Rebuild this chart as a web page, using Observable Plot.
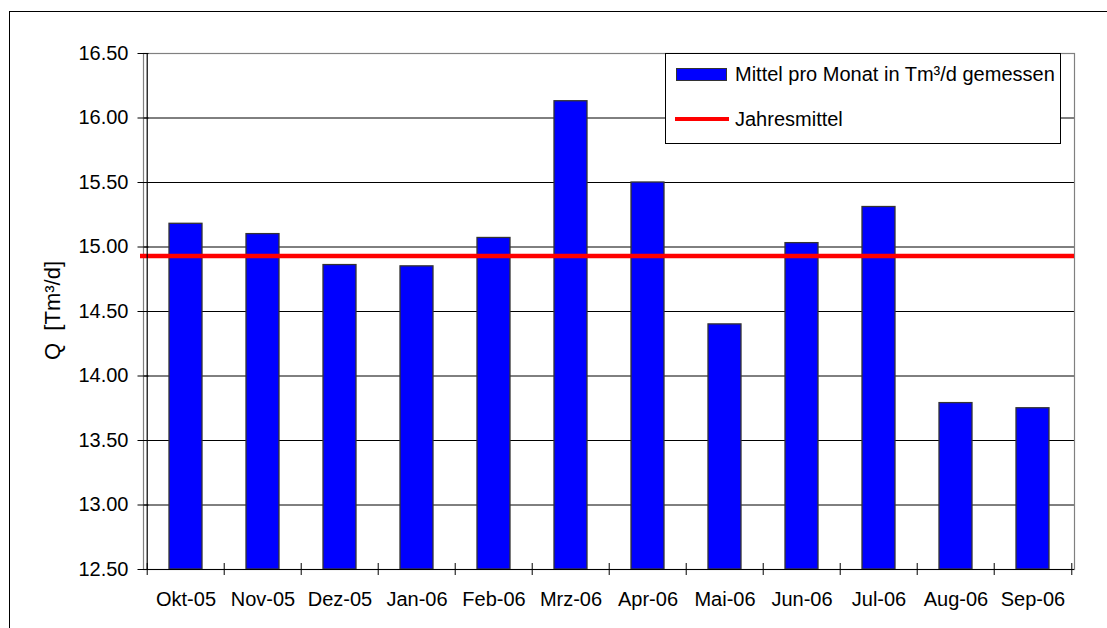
<!DOCTYPE html>
<html>
<head>
<meta charset="utf-8">
<script src="https://cdn.jsdelivr.net/npm/d3@7"></script>
<script src="https://cdn.jsdelivr.net/npm/@observablehq/plot@0.6"></script>
<style>
  html, body { margin: 0; padding: 0; background: #fff; overflow: hidden; }
  #wrap { position: relative; width: 1107px; height: 628px; font-family: "Liberation Sans", Arial, sans-serif; }
  #outer { position: absolute; left: 9px; top: 11px; right: -10px; bottom: -10px; border-left: 1px solid #000; border-top: 1px solid #000; pointer-events: none; }
  #legend { position: absolute; left: 665px; top: 53px; width: 396px; height: 91px; border: 1px solid #000; background: #fff; box-sizing: border-box; }
  #legend .sw-bar { position: absolute; left: 10px; top: 14px; width: 51px; height: 13px; background: #0000ff; border: 1.5px solid #333; box-sizing: border-box; }
  #legend .sw-line { position: absolute; left: 9px; top: 63px; width: 54px; height: 4px; background: #ff0000; }
  #legend .txt { position: absolute; left: 69px; font-size: 20px; line-height: 20px; color: #000; white-space: nowrap; }
</style>
</head>
<body>
<div id="wrap"></div>
<script>
// ---- data ----
const months = ["Okt-05", "Nov-05", "Dez-05", "Jan-06", "Feb-06", "Mrz-06", "Apr-06", "Mai-06", "Jun-06", "Jul-06", "Aug-06", "Sep-06"];
const monthlyMean = [15.18, 15.10, 14.86, 14.85, 15.07, 16.13, 15.50, 14.40, 15.03, 15.31, 13.79, 13.75];
const annualMean = [14.93];
const yTicks = [12.5, 13.0, 13.5, 14.0, 14.5, 15.0, 15.5, 16.0, 16.5];
const yDomain = [12.5, 16.5];
const seriesLabels = ["Mittel pro Monat in Tm³/d gemessen", "Jahresmittel"];
const yLabel = "Q\u00a0\u00a0[Tm³/d]";

const data = months.map((m, i) => ({month: m, value: monthlyMean[i]}));

// ---- layout ----
const W = 1107, H = 628, mL = 143, mR = 33, mT = 53, mB = 59;
const step = (W - mL - mR) / months.length;

const chart = Plot.plot({
  width: W, height: H,
  marginLeft: mL, marginRight: mR, marginTop: mT, marginBottom: mB,
  style: {fontFamily: "'Liberation Sans', Arial, sans-serif", fontSize: "20px", color: "#000", background: "#fff"},
  x: {domain: months, paddingInner: 0.575, paddingOuter: 0.2875, label: null},
  y: {domain: yDomain, label: null},
  marks: [
    Plot.gridY(yTicks.filter(t => t < yDomain[1]), {stroke: "#000", strokeOpacity: 1, strokeWidth: 1}),
    Plot.frame({stroke: "#808080", strokeWidth: 1.2}),
    Plot.barY(data, {x: "month", y1: yDomain[0], y2: "value", fill: "#0000ff", stroke: "#333", strokeWidth: 1.3}),
    Plot.ruleY(annualMean, {stroke: "#ff0000", strokeWidth: 4.5, insetLeft: -3}),
    Plot.ruleY([yDomain[0]], {stroke: "#000", strokeWidth: 1.2}),
    Plot.ruleX([months[0]], {dx: -step / 2, stroke: "#000", strokeWidth: 1.2}),
    // y ticks (crossing) and labels
    Plot.axisY(yTicks, {tickSize: 11, dx: 5.5, tickFormat: () => "", label: null}),
    Plot.axisY(yTicks, {tickSize: 0, tickPadding: 15, tickFormat: d => d.toFixed(2), label: null, fontSize: 20}),
    // x ticks at category boundaries (crossing) and labels
    Plot.axisX(months, {tickSize: 12, dy: -6, dx: -step / 2, tickFormat: () => "", label: null}),
    Plot.axisX([months[months.length - 1]], {tickSize: 12, dy: -6, dx: step / 2, tickFormat: () => "", label: null}),
    Plot.axisX(months, {tickSize: 0, tickPadding: 22, label: null, fontSize: 20}),
    // y axis title
    Plot.text([yLabel], {frameAnchor: "left", textAnchor: "middle", rotate: -90, dx: -99, dy: -1, lineAnchor: "top", fontSize: 22, fill: "#000"})
  ]
});

const wrap = document.getElementById("wrap");
wrap.appendChild(chart);

// legend (inside plot area, top-right)
const legend = document.createElement("div");
legend.id = "legend";
legend.innerHTML =
  `<div class="sw-bar"></div><div class="txt" style="top:10px">${seriesLabels[0]}</div>` +
  `<div class="sw-line"></div><div class="txt" style="top:55px">${seriesLabels[1]}</div>`;
wrap.appendChild(legend);

const outer = document.createElement("div");
outer.id = "outer";
wrap.appendChild(outer);
</script>
</body>
</html>
